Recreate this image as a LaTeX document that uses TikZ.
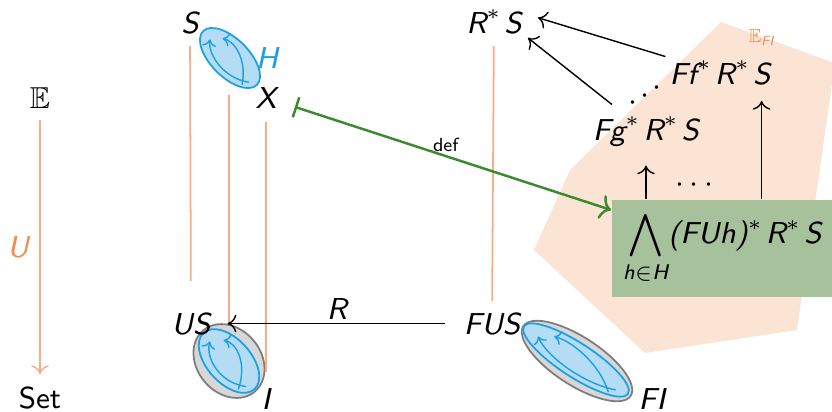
\documentclass[tikz,border=0pt]{standalone}
\usepackage{amsmath}
\usepackage{amssymb}
\usepackage{tikz}
\usetikzlibrary{arrows.meta}

\definecolor{peach}{RGB}{252,228,212}
\definecolor{gboxc}{RGB}{166,193,155}
\definecolor{darkgr}{RGB}{58,138,46}
\definecolor{ora}{RGB}{246,172,135}
\definecolor{oratext}{RGB}{243,140,80}
\definecolor{blueline}{RGB}{27,161,226}
\definecolor{bluefill}{RGB}{180,220,244}
\definecolor{grayfill}{RGB}{215,215,215}
\definecolor{grayline}{RGB}{125,125,125}

\begin{document}
\begin{tikzpicture}[x=0.01cm,y=-0.01cm,
  lbl/.style={font=\fontsize{8.6}{10}\sffamily\slshape, inner sep=1pt, anchor=base},
  up/.style={font=\fontsize{8.6}{10}\sffamily, inner sep=1pt, anchor=base},
  small/.style={font=\fontsize{5.4}{6}\sffamily, inner sep=1pt},
  oline/.style={ora, line width=0.5pt},
  arr/.style={-{To[length=2.5pt,width=5pt]}, line width=0.4pt},
  garr/.style={{Bar[width=6pt]}-{To[length=3pt,width=7pt]}, darkgr, line width=0.7pt},
  gbox/.style={fill=gboxc, minimum width=2.21cm, minimum height=0.97cm, inner sep=0pt, anchor=north west,
    font=\fontsize{8.6}{10}\sffamily\slshape},
  ]
  % 页面大小
  \useasboundingbox (0,0) rectangle (832,411);
  \clip (0,0) rectangle (832,411);

  % 定义一个蓝色的集合
  \newcommand{\blob}[5]{
    \begin{scope}[shift={(#1,#2)},rotate=#3]
      \draw[blueline, fill=bluefill, line width=0.5pt] (0,0) ellipse [x radius=#4, y radius=#5];
      \draw[blueline, line width=0.4pt, -{To[length=2pt,width=4pt]}]
        (0.80*#4,0.20*#5) .. controls (0.30*#4,0.95*#5) and (-0.45*#4,0.75*#5) .. (-0.72*#4,0.05*#5);
      \draw[blueline, line width=0.4pt, -{To[length=2pt,width=4pt]}]
        (0.72*#4,0.55*#5) .. controls (0.35*#4,-0.60*#5) and (-0.25*#4,-0.80*#5) .. (-0.50*#4,-0.45*#5);
    \end{scope}}
  \newcommand{\st}{$^*$\kern0.8pt}

  % 背景区域
  \fill[peach] (721,22) -- (835,63) -- (797,330) -- (645,353) -- (534,250) -- (570,170) -- cycle;
  \node[small, text=oratext, anchor=base] (EFI) at (762,42) {$\mathbb{E}_{\text{\slshape FI}}$};

  % 左边的函子
  \node[up] (E) at (40,108) {$\mathbb{E}$};
  \node[up] (set) at (40,408) {Set};
  \node[lbl, text=oratext] (U) at (18,257) {U};
  \draw[oline, arr, shorten <=0.08cm, shorten >=0.08cm] (E) -- (set);

  % 集合
  \blob{230}{58}{-45}{38}{19}
  \draw[grayline, fill=grayfill, line width=0.5pt, shift={(229,361)}, rotate=-50] (0,0) ellipse [x radius=40, y radius=32];
  \blob{229}{361}{-48}{38}{22}
  \draw[grayline, fill=grayfill, line width=0.5pt, shift={(577,361)}, rotate=-33] (0,0) ellipse [x radius=64, y radius=24];
  \blob{576}{360}{-33}{62}{17}

  % 对象
  \node[lbl] (S) at (190,33) {S};
  \node[lbl, text=blueline] (H) at (267,68) {H};
  \node[lbl] (X) at (266,108) {X};
  \node[lbl] (RS) at (494,33) {R\st S};
  \node[lbl] (ff) at (720,84) {Ff\st R\st S};
  \node[lbl] (fg) at (646,140) {Fg\st R\st S};
  \node[lbl] (US) at (191,334) {US};
  \node[lbl] (FUS) at (492,334) {FUS};
  \node[lbl] (I) at (266,409) {I};
  \node[lbl] (FI) at (652,409) {FI};
  \node[gbox] (box) at (611,199) {$\displaystyle\bigwedge_{\text{h}\in\text{H}}$(FUh)\st R\st S};

  % 点
  \foreach \p [count=\i] in {(633,103),(645,96),(657,88)}
    \node[lbl, anchor=center, inner sep=0pt] (dg\i) at \p {$\cdot$};
  \node[lbl, anchor=center, inner sep=0pt] (dh) at (697,185) {$\cdots$};

  % 竖线
  \coordinate (hb) at (229,95);
  \draw[oline, shorten <=0.08cm, shorten >=0.27cm] (S) -- (US);
  \draw[oline] (hb) -- (hb |- US.east);
  \draw[oline, shorten <=0.1cm, shorten >=0.12cm] (X) -- (I);
  \draw[oline, shorten <=0.08cm, shorten >=0.07cm] (RS) -- (FUS);

  % 箭头
  \draw[arr, shorten <=0.15cm, shorten >=0.13cm] (FUS) -- (US) node[midway, above, lbl, anchor=south] (R) {R};
  \draw[arr] (ff.north west) -- ([xshift=0.12cm,yshift=0.04cm]RS.east);
  \draw[arr] ([xshift=-0.34cm,yshift=0.08cm]fg.north) -- ([xshift=0.02cm]RS.south east);
  \draw[arr, shorten >=0.15cm] (box.north -| fg.south) -- (fg.south);
  \coordinate (ffs) at ([xshift=-0.13cm]ff.south east);
  \draw[arr, shorten >=0.12cm] (box.north -| ffs) -- (ffs);
  \draw[garr, shorten <=0.15cm] (X) -- (box.161) node[midway, above, small, text=black] (def) {def};
\end{tikzpicture}
\end{document}
